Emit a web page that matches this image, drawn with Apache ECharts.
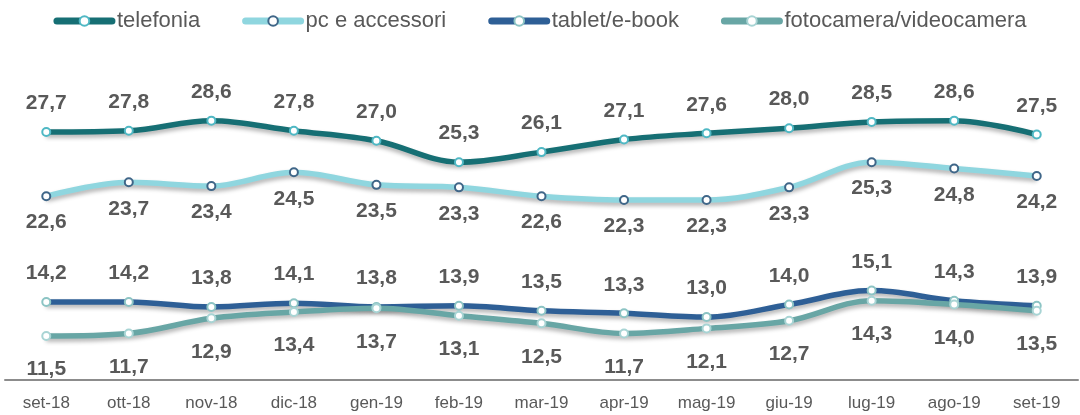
<!DOCTYPE html>
<html>
<head>
<meta charset="utf-8">
<script src="https://cdn.jsdelivr.net/npm/echarts@6/dist/echarts.min.js"></script>
<style>
  html, body { margin: 0; padding: 0; background: #fff; }
  #chart { width: 1080px; height: 415px; }
</style>
</head>
<body>
<div id="chart"></div>
<script>
const categories = ['set-18', 'ott-18', 'nov-18', 'dic-18', 'gen-19', 'feb-19', 'mar-19', 'apr-19', 'mag-19', 'giu-19', 'lug-19', 'ago-19', 'set-19']
const telefonia = [27.7, 27.8, 28.6, 27.8, 27.0, 25.3, 26.1, 27.1, 27.6, 28.0, 28.5, 28.6, 27.5]
const pcAccessori = [22.6, 23.7, 23.4, 24.5, 23.5, 23.3, 22.6, 22.3, 22.3, 23.3, 25.3, 24.8, 24.2]
const tablet = [14.2, 14.2, 13.8, 14.1, 13.8, 13.9, 13.5, 13.3, 13.0, 14.0, 15.1, 14.3, 13.9]
const fotocamera = [11.5, 11.7, 12.9, 13.4, 13.7, 13.1, 12.5, 11.7, 12.1, 12.7, 14.3, 14.0, 13.5]

const labelColor = '#595959'
const font = 'Liberation Sans, Arial, sans-serif'
const fmt = p => p.value.toFixed(1).replace('.', ',')

function makeSeries(name, data, color, markerBorder, position, distance) {
  return {
    name: name,
    type: 'line',
    smooth: 0.35,
    data: data,
    symbol: 'circle',
    symbolSize: 8,
    lineStyle: {
      width: 5.5,
      color: color,
      shadowColor: 'rgba(0, 0, 0, 0.3)',
      shadowBlur: 4,
      shadowOffsetY: 3
    },
    itemStyle: {
      color: '#fff',
      borderColor: markerBorder,
      borderWidth: 2
    },
    label: {
      show: true,
      position: position,
      distance: distance,
      formatter: fmt,
      color: labelColor,
      fontSize: 21,
      fontWeight: 'bold',
      fontFamily: font
    },
    emphasis: { disabled: true }
  }
}

const chart = echarts.init(document.getElementById('chart'))
chart.setOption({
  animation: false,
  color: ['#166f74', '#8fd6df', '#2e5f96', '#68a6a5'],
  legend: {
    top: 5,
    left: 'center',
    itemWidth: 55,
    itemHeight: 12,
    itemGap: 42,
    lineStyle: { width: 7, cap: 'round', shadowBlur: 0, shadowOffsetY: 0 },
    textStyle: {
      color: labelColor,
      fontSize: 22,
      fontFamily: font
    },
    data: ['telefonia', 'pc e accessori', 'tablet/e-book', 'fotocamera/videocamera']
  },
  grid: {
    left: 5,
    right: 2,
    top: 103,
    bottom: 35
  },
  xAxis: {
    type: 'category',
    data: categories,
    axisTick: { show: false },
    axisLine: { lineStyle: { color: '#8c8c8c', width: 2 } },
    axisLabel: {
      color: labelColor,
      fontSize: 17,
      margin: 15,
      fontFamily: font
    }
  },
  yAxis: {
    type: 'value',
    min: 8,
    max: 30,
    show: false,
    splitLine: { show: false }
  },
  series: [
    makeSeries('telefonia', telefonia, '#166f74', '#4fb8c4', 'top', 13),
    makeSeries('pc e accessori', pcAccessori, '#8fd6df', '#3f6688', 'bottom', 11),
    makeSeries('tablet/e-book', tablet, '#2e5f96', '#8cc4c4', 'top', 13),
    makeSeries('fotocamera/videocamera', fotocamera, '#68a6a5', '#a8d4d4', 'bottom', 18)
  ]
})
</script>
</body>
</html>
